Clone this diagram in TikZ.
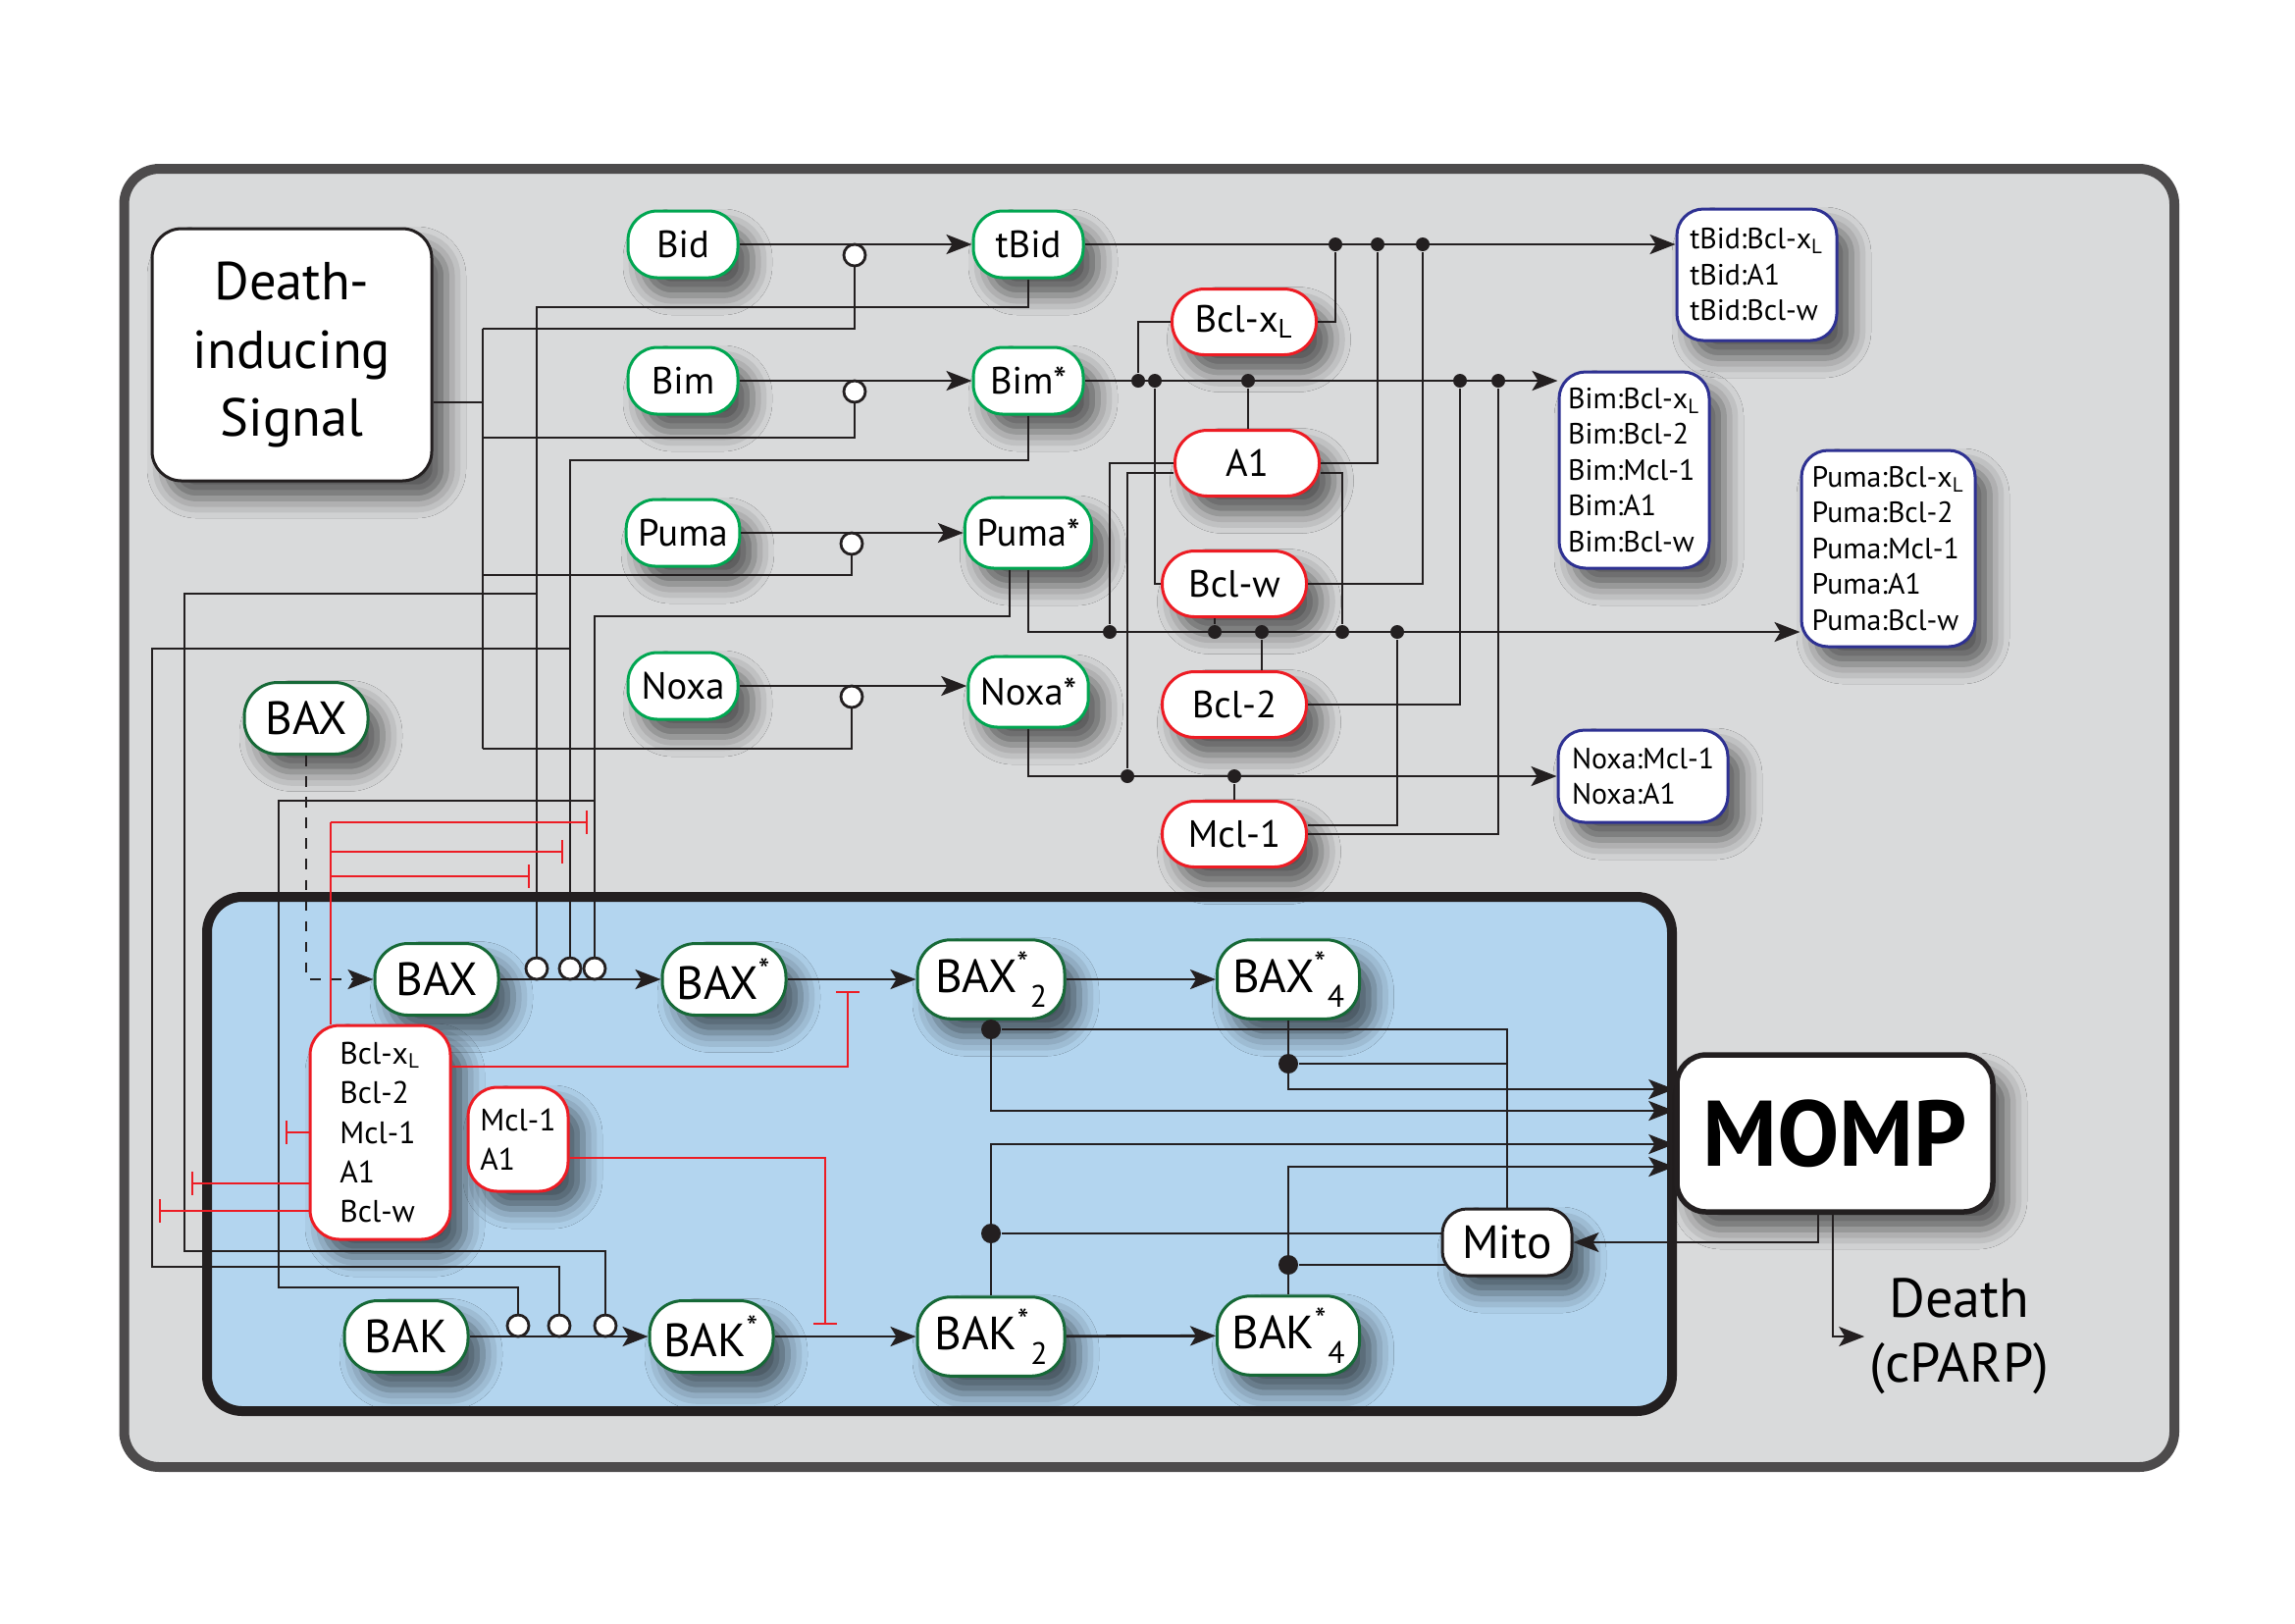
\documentclass[tikz,border=0pt]{standalone}
\usepackage{fontspec}
\setmainfont{PT Sans}
\usetikzlibrary{arrows.meta, shadows.blur}

\definecolor{bggray}{RGB}{217,218,219}
\definecolor{framegray}{RGB}{77,75,76}
\definecolor{mitoblue}{RGB}{179,213,239}
\definecolor{actgreen}{RGB}{0,166,81}
\definecolor{baxgreen}{RGB}{22,105,55}
\definecolor{bclred}{RGB}{237,28,36}
\definecolor{cxblue}{RGB}{46,49,146}
\definecolor{inkblack}{RGB}{35,31,32}

\newcommand{\xL}{x\textsubscript{L}}
\newcommand{\ssub}[1]{\textsuperscript{*}\raisebox{-1.5mm}{\fontsize{9}{9}\selectfont #1}}

\begin{document}
\begin{tikzpicture}[x = 0.1mm, y = -0.1mm, > = {Stealth[length = 2.6mm, width = 2mm, inset = 0.6mm]},
	wire/.style = {inkblack, line width = 0.28mm},
	thinwire/.style = {inkblack, line width = 0.2mm},
	inh/.style = {bclred, line width = 0.22mm, -{Bar[width = 2.4mm]}, shorten > = 0.7mm},
	soft/.style = {blur shadow = {shadow xshift = 1.5mm, shadow yshift = -1.8mm, shadow blur radius = 2mm, shadow opacity = 60}},
	act/.style = {soft, draw = actgreen, fill = white, line width = 0.3mm, rounded corners = 3mm, minimum width = 11.2mm, minimum height = 6.8mm, inner xsep = 1.2mm, font = \fontsize{11}{13}\selectfont},
	bcl/.style = {act, draw = bclred, minimum width = 14.7mm, minimum height = 6.7mm, rounded corners = 3.3mm},
	bax/.style = {act, draw = baxgreen, minimum width = 12.6mm, minimum height = 7.3mm, rounded corners = 3.4mm, inner xsep = 1.2mm, font = \fontsize{13.5}{15}\selectfont},
	cplx/.style = {soft, draw = cxblue, fill = white, line width = 0.3mm, rounded corners = 2.7mm, align = left, inner sep = 0pt, font = \fontsize{8.5}{10.4}\selectfont},
	grp/.style = {soft, draw = bclred, fill = white, line width = 0.3mm, rounded corners = 3mm, align = left, inner sep = 0pt, font = \fontsize{9}{11.4}\selectfont},
	cat/.style = {circle, draw = inkblack, fill = white, line width = 0.28mm, minimum size = 2.2mm, inner sep = 0pt},
	jdot/.style = {circle, fill = inkblack, minimum size = 1.4mm, inner sep = 0pt}]

\useasboundingbox (0,0) rectangle (2339,1654);

% Frames

\draw [framegray, line width = 1mm, fill = bggray, rounded corners = 3.6mm] (126.5,172) rectangle (2216,1495);
\draw [inkblack, line width = 1mm, fill = mitoblue, rounded corners = 3.6mm] (211,914) rectangle (1704,1438);

% Signal

\node [soft, draw = inkblack, fill = white, line width = 0.3mm, rounded corners = 3mm, minimum width = 28.5mm, minimum height = 25.7mm, align = center, font = \fontsize{15.5}{19.9}\selectfont] (sig) at (297.5,361.5) {Death-\\inducing\\Signal};

% Activators

\node [act] (Bid) at (696,249) {Bid};
\node [act] (Bim) at (696,388) {Bim};
\node [act] (Puma) at (696,543) {Puma};
\node [act] (Noxa) at (696,699) {Noxa};
\node [act] (tBid) at (1048,249) {tBid};
\node [act] (BimS) at (1048,388) {Bim*};
\node [act, minimum height = 7.2mm] (PumaS) at (1048,543) {Puma*};
\node [act, minimum height = 7.2mm] (NoxaS) at (1048,705) {Noxa*};

% Anti-apoptotic proteins

\node [bcl] (BclXL) at (1268,328) {Bcl-\xL};
\node [bcl] (A1) at (1271,472) {A1};
\node [bcl] (Bclw) at (1258,595) {Bcl-w};
\node [bcl] (Bcl2) at (1258,718) {Bcl-2};
\node [bcl] (Mcl1) at (1258,850) {Mcl-1};

% Complexes

\node [cplx, minimum width = 16.3mm, minimum height = 13.4mm] (tBidC) at (1790.5,280) {tBid:Bcl-\xL\\tBid:A1\\tBid:Bcl-w};
\node [cplx, minimum width = 15.3mm, minimum height = 20mm] (BimC) at (1665.5,479) {Bim:Bcl-\xL\\Bim:Bcl-2\\Bim:Mcl-1\\Bim:A1\\Bim:Bcl-w};
\node [cplx, minimum width = 17.7mm, minimum height = 20mm] (PumaC) at (1924.5,559) {Puma:Bcl-\xL\\Puma:Bcl-2\\Puma:Mcl-1\\Puma:A1\\Puma:Bcl-w};
\node [cplx, minimum width = 17.3mm, minimum height = 9.4mm] (NoxaC) at (1674.5,791) {Noxa:Mcl-1\\Noxa:A1};

% Effectors

\node [bax] (BAXo) at (312,732) {BAX};
\node [bax] (BAXi) at (445,998) {BAX};
\node [bax] (BAXs) at (738,998) {BAX\textsuperscript{*}};
\node [bax, minimum width = 15mm] (BAX2) at (1010,998) {BAX\ssub{2}};
\node [bax, minimum width = 14.5mm] (BAX4) at (1313,998) {BAX\ssub{4}};
\node [bax] (BAK) at (414,1362) {BAK};
\node [bax] (BAKs) at (725,1362) {BAK\textsuperscript{*}};
\node [bax, minimum width = 15mm] (BAK2) at (1010,1362) {BAK\ssub{2}};
\node [bax, minimum width = 14.5mm] (BAK4) at (1313,1361) {BAK\ssub{4}};

\node [grp, minimum width = 14.3mm, minimum height = 21.8mm] (bclgrp) at (387.5,1154) {Bcl-\xL\\Bcl-2\\Mcl-1\\A1\\Bcl-w};
\node [grp, minimum width = 10.2mm, minimum height = 10.6mm] (mclgrp) at (528,1161) {Mcl-1\\A1};

% Mitochondria and outcome

\node [bax, draw = inkblack, minimum width = 13.2mm, minimum height = 6.8mm, rounded corners = 2.5mm] (Mito) at (1536,1266) {Mito};
\node [soft, draw = inkblack, fill = white, line width = 0.55mm, rounded corners = 3mm, minimum width = 32.2mm, minimum height = 16mm, font = \fontsize{27}{30}\selectfont\bfseries] (MOMP) at (1870,1155) {MOMP};
\node [align = center, inner sep = 0.5mm, font = \fontsize{16}{18.8}\selectfont] (death) at (1997,1362) {Death\\(cPARP)};

% Junctions and catalysis marks

\node [cat] (cBid) at (871,260) {};
\node [cat] (cBim) at (871,399) {};
\node [cat] (cPuma) at (868,554) {};
\node [cat] (cNoxa) at (868,710) {};

\node [jdot] (jt1) at (1361,249) {};
\node [jdot] (jt2) at (1404,249) {};
\node [jdot] (jt3) at (1450,249) {};
\node [jdot] (jb1) at (1160,388) {};
\node [jdot] (jb2) at (1177,388) {};
\node [jdot] (jb3) at (1272,388) {};
\node [jdot] (jb4) at (1488,388) {};
\node [jdot] (jb5) at (1527,388) {};
\node [jdot] (jp1) at (1131,644) {};
\node [jdot] (jp2) at (1238,644) {};
\node [jdot] (jp3) at (1286,644) {};
\node [jdot] (jp4) at (1368,644) {};
\node [jdot] (jp5) at (1424,644) {};
\node [jdot] (jn1) at (1149,791) {};
\node [jdot] (jn2) at (1258,791) {};

\node [cat] (cBax1) at (547,987) {};
\node [cat] (cBax2) at (581,987) {};
\node [cat] (cBax3) at (606,987) {};
\node [cat] (cBak1) at (528,1351) {};
\node [cat] (cBak2) at (570,1351) {};
\node [cat] (cBak3) at (617,1351) {};

\node [jdot, minimum size = 2mm] (jx1) at (1010,1049) {};
\node [jdot, minimum size = 2mm] (jx2) at (1313,1084) {};
\node [jdot, minimum size = 2mm] (jk1) at (1010,1257) {};
\node [jdot, minimum size = 2mm] (jk2) at (1313,1289) {};

% Signal bus

\coordinate (busT) at (492,335);
\coordinate (busS) at (492,410);
\coordinate (bus2) at (492,446);
\coordinate (bus3) at (492,586);
\coordinate (busB) at (492,763);

\draw [wire] (busT) -- (busB);
\draw [wire] (sig.east |- busS) -- (busS);
\draw [wire] (cBid) |- (busT);
\draw [wire] (cBim) |- (bus2);
\draw [wire] (cPuma) |- (bus3);
\draw [wire] (cNoxa) |- (busB);

% Activation

\draw [wire, ->] (Bid) -- (tBid);
\draw [wire, ->] (Bim) -- (BimS);
\draw [wire, ->] (Puma) -- (PumaS);
\draw [wire, ->] (Noxa.east) -- (Noxa.east -| NoxaS.west);

% Activators to BAX and BAK

\coordinate (tb) at (547,313);
\coordinate (bb) at (581,469);
\coordinate (pb) at (606,628);
\coordinate (tbL) at (188,1275);
\coordinate (bbL) at (155,1291);
\coordinate (pbL) at (284,1312);

\draw [wire] (tBid) |- (tb) -- (cBax1);
\draw [wire] (tb |- 0,605) -| (tbL) -| (cBak3);
\draw [wire] (BimS) |- (bb) -- (cBax2);
\draw [wire] (bb |- 0,661) -| (bbL) -| (cBak2);
\draw [wire] ([xshift = -1.9mm]PumaS.south) |- (pb) -- (cBax3);
\draw [wire] (pb |- 0,816) -| (pbL) -| (cBak1);

% Binding

\draw [wire, ->] (tBid) -- (tBidC.west |- tBid);
\draw [wire, ->] (BimS) -- (BimC.west |- BimS);
\draw [wire, ->] (PumaS) |- (PumaC.west |- jp1);
\draw [wire, ->] (NoxaS) |- (NoxaC.west |- jn1);

\draw [wire] (BclXL.east) -| (jt1);
\draw [wire] (BclXL.west) -| (jb1);
\draw [wire] (A1.north -| jb3) -- (jb3);
\draw [wire] (A1.east) -| (jt2);
\draw [wire] ([yshift = -1mm]A1.east) -| (jp4);
\draw [wire] (A1.west) -| (jp1);
\draw [wire] ([yshift = -1mm]A1.west) -| (jn1);
\draw [wire] (Bclw.west) -| (jb2);
\draw [wire] (Bclw.east) -| (jt3);
\draw [wire] (Bclw.south -| jp2) -- (jp2);
\draw [wire] (Bcl2.north -| jp3) -- (jp3);
\draw [wire] (Bcl2.east) -| (jb4);
\draw [wire] (Mcl1.north -| jn2) -- (jn2);
\draw [wire] ([yshift = 0.9mm]Mcl1.east) -| (jp5);
\draw [wire] (Mcl1.east) -| (jb5);

% Oligomerisation

\draw [wire, dashed, ->] (BAXo) |- (BAXi);
\draw [wire, ->] (BAXi) -- (BAXs);
\draw [wire, ->] (BAXs) -- (BAX2);
\draw [wire, ->] (BAX2) -- (BAX4);
\draw [wire, ->] (BAK) -- (BAKs);
\draw [wire, ->] (BAKs) -- (BAK2);
\draw [wire, ->] (BAK2) -- (BAK4);

\draw [wire, ->] (BAX4) |- (MOMP.west |- 0,1110);
\draw [wire, ->] (BAX2) |- (MOMP.west |- 0,1132);
\draw [wire, ->] (BAK2) |- (MOMP.west |- 0,1166);
\draw [wire, ->] (BAK4) |- (MOMP.west |- 0,1189);

\draw [wire] (jx1) -| (Mito);
\draw [wire] (jx2) -- (jx2 -| Mito);
\draw [wire] (jk1) -- (jk1 -| Mito.west);
\draw [wire, shorten > = -0.45mm] (jk2) -- (jk2 -| Mito.west);

\draw [thinwire, ->] ([xshift = -1.7mm]MOMP.south) |- (Mito);
\draw [thinwire, ->] ([xshift = -0.2mm]MOMP.south) |- (death.west);

% Inhibition

\coordinate (rTop) at (337,838);
\coordinate (iBx) at (864,996);
\coordinate (iBk) at (841,1362);

\draw [bclred, line width = 0.22mm] (rTop |- bclgrp.north) -- (rTop);
\draw [inh] (rTop) -- (pb |- rTop);
\draw [inh] (rTop |- 0,868) -- (bb |- 0,868);
\draw [inh] (rTop |- 0,893) -- (tb |- 0,893);
\draw [inh] (bclgrp.west) -- (pbL |- bclgrp.west);
\draw [inh] (bclgrp.west |- 0,1206) -- (tbL |- 0,1206);
\draw [inh] (bclgrp.west |- 0,1234) -- (bbL |- 0,1234);
\draw [inh, shorten > = 1.4mm] (bclgrp.east |- 0,1087) -| (iBx);
\draw [inh, shorten > = 1.2mm] (mclgrp.east |- 0,1180) -| (iBk);

\end{tikzpicture}
\end{document}
